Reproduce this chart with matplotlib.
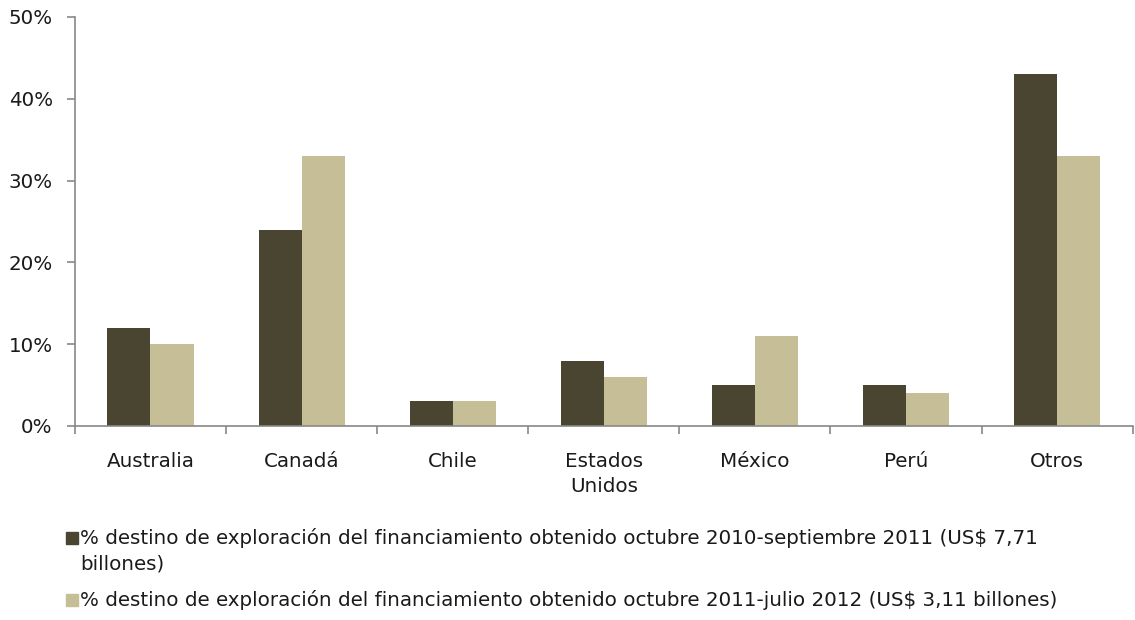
import matplotlib
matplotlib.use("Agg")
import matplotlib.pyplot as plt
from matplotlib.patches import Rectangle
import numpy as np

categorias = ["Australia", "Canadá", "Chile", "Estados\nUnidos", "México", "Perú", "Otros"]
serie_2011 = [12, 24, 3, 8, 5, 5, 43]
serie_2012 = [10, 33, 3, 6, 11, 4, 33]
etiqueta_2011 = ("% destino de exploración del financiamiento obtenido octubre 2010-septiembre 2011 (US$ 7,71\n"
                 "billones)")
etiqueta_2012 = "% destino de exploración del financiamiento obtenido octubre 2011-julio 2012 (US$ 3,11 billones)"
ticks_y = [0, 10, 20, 30, 40, 50]
colores = ["#4A4530", "#C5BE97"]

plt.rcParams['font.family'] = ['DejaVu Sans']
fs = 14.3

fig = plt.figure(figsize=(11.35, 6.2), dpi=100)
ax = fig.add_axes([0.066, 0.313, 0.932, 0.6596])

x = np.arange(len(categorias))
w = 0.285
ax.bar(x - w/2, serie_2011, w, color=colores[0])
ax.bar(x + w/2, serie_2012, w, color=colores[1])

ax.set_xlim(-0.5, len(categorias) - 0.5)
ax.set_ylim(0, 50)
ax.set_yticks(ticks_y)
ax.set_yticklabels([f"{t}%" for t in ticks_y], fontsize=fs, color="#1a1a1a")
ax.set_xticks(x)
ax.set_xticklabels(categorias, fontsize=fs, color="#1a1a1a", va="top")
for lbl in ax.get_xticklabels():
    lbl.set_linespacing(1.4)
ax.tick_params(axis="x", length=0, pad=19)
ax.set_xticks(np.arange(-0.5, len(categorias)), minor=True)
ax.tick_params(axis="x", which="minor", length=6, color="#888888", width=1.2)
ax.tick_params(axis="y", length=6, color="#888888", width=1.2, pad=10)

for s in ["top", "right"]:
    ax.spines[s].set_visible(False)
for s in ["left", "bottom"]:
    ax.spines[s].set_color("#888888")
    ax.spines[s].set_linewidth(1.2)

# leyenda manual (cuadro alineado con la primera línea)
W, H = 1135, 620
for etiqueta, color, ytop in [(etiqueta_2011, colores[0], 531), (etiqueta_2012, colores[1], 593)]:
    fig.patches.append(Rectangle((66 / W, 1 - (ytop + 13) / H), 12 / W, 12 / H,
                                 transform=fig.transFigure, color=color))
    fig.text(80 / W, 1 - (ytop - 3) / H, etiqueta, fontsize=fs, color="#1a1a1a",
             va="top", ha="left", linespacing=1.4)

fig.savefig("out.png", dpi=100)
